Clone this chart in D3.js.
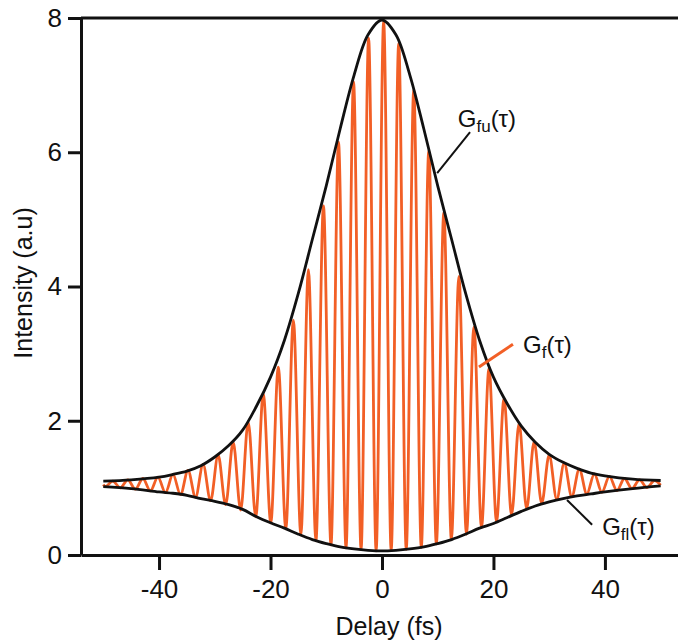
<!DOCTYPE html>
<html>
<head>
<meta charset="utf-8">
<script src="https://cdn.jsdelivr.net/npm/d3@7"></script>
<style>
  html, body { margin: 0; padding: 0; background: #fff; }
  svg { display: block; font-family: "Liberation Sans", Arial, Helvetica, sans-serif; }
</style>
</head>
<body>
<svg id="chart" width="678" height="643"></svg>
<script>
// Axis ticks
const delayTicks = [-40, -20, 0, 20, 40];
const intensityTicks = [0, 2, 4, 6, 8];

// Envelopes of the interferometric autocorrelation, sampled in delay (fs)
const envelopeDelay = [-50, -45, -40, -37.5, -35, -32.5, -30, -27.5, -25, -22.5, -20, -17.5, -15, -12.5, -10, -7.5, -5, -2.5, 0,
  2.5, 5, 7.5, 10, 12.5, 15, 17.5, 20, 22.5, 25, 27.5, 30, 32.5, 35, 37.5, 40, 45, 50];
const upperEnvelope = [1.10, 1.12, 1.16, 1.20, 1.25, 1.33, 1.46, 1.63, 1.86, 2.22, 2.65, 3.2, 3.9, 4.7, 5.5, 6.35, 7.15, 7.75, 7.97,
  7.75, 7.15, 6.35, 5.5, 4.7, 3.9, 3.2, 2.65, 2.25, 1.92, 1.68, 1.50, 1.38, 1.29, 1.22, 1.18, 1.13, 1.11];
const lowerEnvelope = [1.02, 0.99, 0.94, 0.92, 0.89, 0.84, 0.80, 0.75, 0.68, 0.57, 0.48, 0.40, 0.31, 0.23, 0.17, 0.12, 0.09, 0.07, 0.06,
  0.07, 0.09, 0.12, 0.17, 0.23, 0.31, 0.40, 0.47, 0.56, 0.65, 0.73, 0.79, 0.84, 0.88, 0.91, 0.94, 0.99, 1.03];

// Fringe maxima and minima of the full autocorrelation trace
const fringeDelay = [-50, -49.65, -48.3, -46.95, -45.6, -44.25, -42.9, -41.55, -40.2, -38.85, -37.5, -36.15, -34.8, -33.45,
  -32.1, -30.75, -29.4, -28.05, -26.7, -25.35, -24.0, -22.65, -21.3, -19.95, -18.6, -17.25, -15.9, -14.55, -13.2, -11.85,
  -10.5, -9.15, -7.8, -6.45, -5.1, -3.75, -2.4, -1.05, 0.3, 1.65, 3.0, 4.35, 5.7, 7.05, 8.4, 9.75, 11.1, 12.45, 13.8,
  15.15, 16.5, 17.85, 19.2, 20.55, 21.9, 23.25, 24.6, 25.95, 27.3, 28.65, 30.0, 31.35, 32.7, 34.05, 35.4, 36.75, 38.1,
  39.45, 40.8, 42.15, 43.5, 44.85, 46.2, 47.55, 48.9, 50.0];
const fringeIntensity = [1.05, 1.02, 1.10, 1.00, 1.12, 0.98, 1.14, 0.955, 1.16, 0.93, 1.20, 0.90, 1.26, 0.86,
  1.35, 0.81, 1.49, 0.75, 1.68, 0.67, 1.98, 0.57, 2.40, 0.48, 2.80, 0.39, 3.50, 0.30, 4.25, 0.21,
  5.20, 0.15, 6.15, 0.105, 7.05, 0.08, 7.70, 0.06, 7.95, 0.065, 7.62, 0.085, 6.93, 0.115, 6.02, 0.165, 5.10, 0.23, 4.15,
  0.31, 3.40, 0.41, 2.78, 0.50, 2.33, 0.60, 1.96, 0.69, 1.69, 0.77, 1.49, 0.83, 1.37, 0.87, 1.28, 0.91, 1.21,
  0.935, 1.17, 0.96, 1.14, 0.99, 1.12, 1.005, 1.11, 1.04];

// Curve labels: name, subscript, label anchor and leader line (data units)
const curveLabels = [
  { base: "G", sub: "fu", at: [13.6, 6.38], from: [15.8, 6.30], to: [9.9, 5.69], color: "#111" },
  { base: "G", sub: "f",  at: [25.3, 3.01], from: [23.5, 3.14], to: [17.4, 2.80], color: "#f25f26" },
  { base: "G", sub: "fl", at: [39.5, 0.30], from: [37.7, 0.45], to: [33.2, 0.82], color: "#111" }
];

const svg = d3.select("#chart");
const orange = "#f25f26";
const ink = "#111";

const x = d3.scaleLinear().domain([-54, 60]).range([81, 716.4]);
const y = d3.scaleLinear().domain([0, 8]).range([555, 18]);

const env = envelopeDelay.map((d, i) => ({ t: d, up: upperEnvelope[i], lo: lowerEnvelope[i] }));
const fringes = fringeDelay.map((d, i) => ({ t: d, v: fringeIntensity[i] }));

// Oscillating trace
svg.append("path")
  .datum(fringes)
  .attr("fill", "none")
  .attr("stroke", orange)
  .attr("stroke-width", 2.8)
  .attr("stroke-linejoin", "round")
  .attr("d", d3.line().x(d => x(d.t)).y(d => y(d.v)).curve(d3.curveMonotoneX));

// Envelopes
const envLine = key => d3.line().x(d => x(d.t)).y(d => y(d[key])).curve(d3.curveCatmullRom.alpha(0.5));
svg.append("path").datum(env).attr("fill", "none").attr("stroke", ink).attr("stroke-width", 2.8).attr("d", envLine("up"));
svg.append("path").datum(env).attr("fill", "none").attr("stroke", ink).attr("stroke-width", 2.8).attr("d", envLine("lo"));

// Frame top line
svg.append("line")
  .attr("x1", x(-54)).attr("x2", x(60))
  .attr("y1", y(8)).attr("y2", y(8))
  .attr("stroke", ink).attr("stroke-width", 3);

// Axes
const yAxis = svg.append("g")
  .attr("transform", `translate(${x(-54)},0)`)
  .call(d3.axisLeft(y).tickValues(intensityTicks).tickSize(13).tickSizeOuter(0).tickPadding(6).tickFormat(d3.format("d")));
const xAxis = svg.append("g")
  .attr("transform", `translate(0,${y(0)})`)
  .call(d3.axisBottom(x).tickValues(delayTicks).tickSize(15).tickSizeOuter(0).tickPadding(10).tickFormat(d => String(d)));

[yAxis, xAxis].forEach(g => {
  g.select(".domain").attr("stroke", ink).attr("stroke-width", 3);
  g.selectAll(".tick line").attr("stroke", ink).attr("stroke-width", 3);
  g.selectAll(".tick text").attr("fill", ink).attr("font-size", 26)
    .attr("font-family", "\"Liberation Sans\", Arial, Helvetica, sans-serif");
});

// Axis titles
svg.append("text")
  .attr("x", 389).attr("y", 635)
  .attr("text-anchor", "middle")
  .attr("font-size", 25).attr("fill", ink)
  .text("Delay (fs)");
svg.append("text")
  .attr("transform", "translate(32,283) rotate(-90)")
  .attr("text-anchor", "middle")
  .attr("font-size", 25).attr("fill", ink)
  .text("Intensity (a.u)");

// Curve labels with leader lines
curveLabels.forEach(l => {
  svg.append("line")
    .attr("x1", x(l.from[0])).attr("y1", y(l.from[1]))
    .attr("x2", x(l.to[0])).attr("y2", y(l.to[1]))
    .attr("stroke", l.color).attr("stroke-width", l.color === ink ? 2 : 3);
  const t = svg.append("text")
    .attr("x", x(l.at[0])).attr("y", y(l.at[1]))
    .attr("font-size", 24).attr("fill", ink);
  t.append("tspan").text(l.base);
  t.append("tspan").attr("font-size", 17).attr("dy", 5).text(l.sub);
  t.append("tspan").attr("dy", -5).text("(τ)");
});
</script>
</body>
</html>
